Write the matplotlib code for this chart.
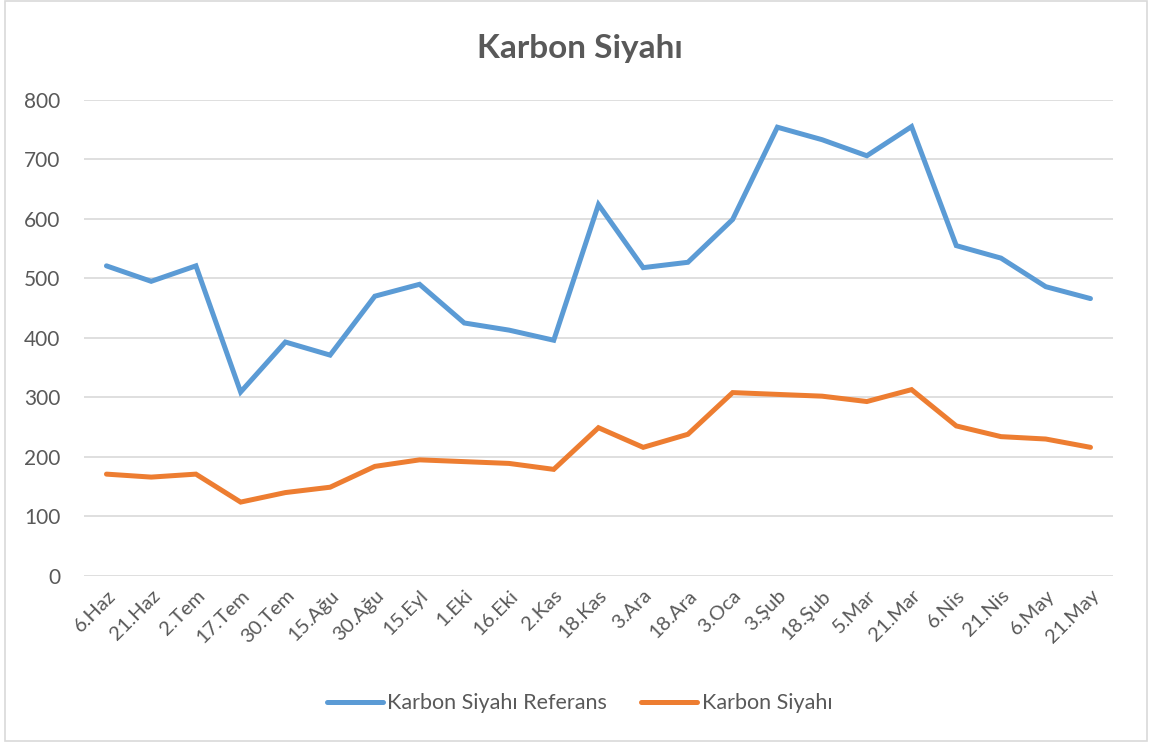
import matplotlib.pyplot as plt
from matplotlib.patches import Rectangle

# dates (day.month in Turkish)
dates = ["6.Haz", "21.Haz", "2.Tem", "17.Tem", "30.Tem", "15.Ağu", "30.Ağu",
         "15.Eyl", "1.Eki", "16.Eki", "2.Kas", "18.Kas", "3.Ara", "18.Ara",
         "3.Oca", "3.Şub", "18.Şub", "5.Mar", "21.Mar", "6.Nis", "21.Nis",
         "6.May", "21.May"]
referans = [521, 495, 521, 309, 393, 371, 470, 490, 425, 413, 396, 624, 518,
            527, 599, 754, 733, 706, 755, 555, 534, 486, 466]
karbon = [171, 166, 171, 124, 140, 149, 184, 195, 192, 189, 179, 249, 216,
          238, 308, 305, 302, 293, 313, 252, 234, 230, 216]

plt.rcParams['font.family'] = ['Lato', 'DejaVu Sans']
text_col = '#595959'

fig = plt.figure(figsize=(11.52, 7.45), dpi=100)
ax = fig.add_axes([0.073, 0.227, 0.893, 0.639])

x = range(len(dates))
ax.plot(x, referans, color='#5B9BD5', lw=3.6, solid_joinstyle='miter',
        solid_capstyle='round', label='Karbon Siyahı Referans')
ax.plot(x, karbon, color='#ED7D31', lw=3.6, solid_joinstyle='miter',
        solid_capstyle='round', label='Karbon Siyahı')

ax.set_xlim(-0.5, len(dates) - 0.5)
ax.set_ylim(0, 800)
ax.set_yticks(range(0, 801, 100))
ax.set_xticks(list(x))
ax.set_xticklabels(dates, rotation=45, ha='right', rotation_mode='anchor')
ax.tick_params(axis='both', length=0, colors=text_col)
ax.tick_params(axis='x', pad=8, labelsize=14.5)
ax.tick_params(axis='y', pad=17, labelsize=15)
ax.grid(axis='y', color='#D9D9D9', lw=1.2)
ax.set_axisbelow(True)
for s in ax.spines.values():
    s.set_visible(False)

fig.text(0.503, 0.935, 'Karbon Siyahı', ha='center', va='center',
         fontsize=24, fontweight='bold', color=text_col)

fig.legend(loc='center', bbox_to_anchor=(0.503, 0.056), ncol=2, frameon=False,
           fontsize=15.5, labelcolor=text_col, handlelength=2.6,
           handletextpad=0.2, columnspacing=1.6)

# chart border
fig.patches.append(Rectangle((0.004, 0.006), 0.992, 0.992, transform=fig.transFigure,
                             fill=False, edgecolor='#D9D9D9', lw=1.2))

fig.savefig('out.png', dpi=100)
